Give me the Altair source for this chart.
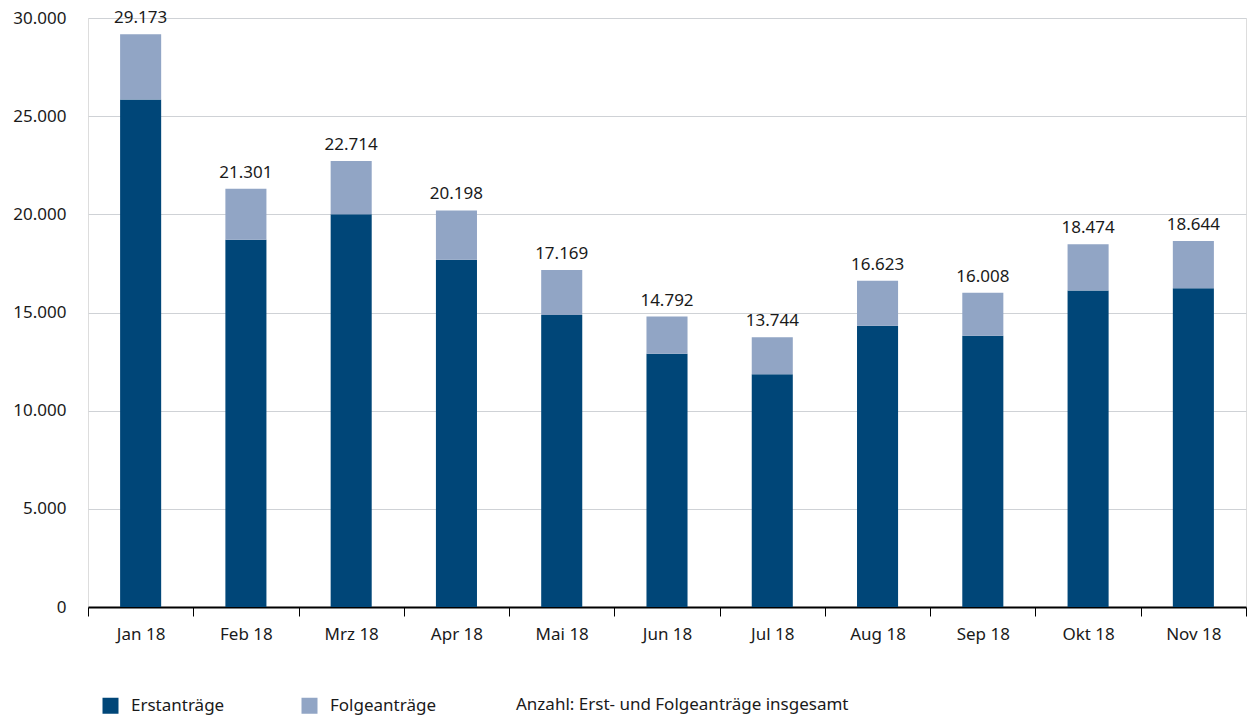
import altair as alt
import pandas as pd

months = ["Jan 18", "Feb 18", "Mrz 18", "Apr 18", "Mai 18", "Jun 18",
          "Jul 18", "Aug 18", "Sep 18", "Okt 18", "Nov 18"]
totals = [29173, 21301, 22714, 20198, 17169, 14792, 13744, 16623, 16008, 18474, 18644]
erst = [25850, 18700, 20010, 17690, 14870, 12900, 11850, 14320, 13810, 16120, 16240]
folge = [t - e for t, e in zip(totals, erst)]
series = ["Erstanträge", "Folgeanträge"]
colors = ["#004678", "#91a5c5"]
FONT = "Noto Sans"

rows = []
for i, m in enumerate(months):
    rows.append({"Monat": m, "Art": series[0], "Wert": erst[i], "ord": 0})
    rows.append({"Monat": m, "Art": series[1], "Wert": folge[i], "ord": 1})
df = pd.DataFrame(rows)
df_tot = pd.DataFrame({"Monat": months, "Gesamt": totals})

xscale = alt.Scale(paddingInner=0, paddingOuter=0)
xenc = alt.X("Monat:N", sort=months, title=None, scale=xscale,
             axis=alt.Axis(labelAngle=0, domainColor="#000000", domainWidth=2,
                           tickColor="#000000", tickSize=9, tickWidth=1,
                           tickBand="extent", labelPadding=10, labelFontSize=17,
                           labelColor="#1a1a1a", labelFont=FONT, grid=False))

bars = alt.Chart(df).mark_bar(width=alt.RelativeBandSize(0.39)).encode(
    x=xenc,
    y=alt.Y("sum(Wert):Q", title=None,
            scale=alt.Scale(domain=[0, 30000], nice=False),
            axis=alt.Axis(values=[0, 5000, 10000, 15000, 20000, 25000, 30000],
                          labelExpr="replace(format(datum.value, ','), ',', '.')",
                          domain=False, ticks=False, labelPadding=22,
                          labelFontSize=17, labelColor="#1a1a1a", labelFont=FONT,
                          gridColor="#cfd2d6", gridWidth=1)),
    color=alt.Color("Art:N", sort=series,
                    scale=alt.Scale(domain=series, range=colors),
                    legend=alt.Legend(title="Anzahl: Erst- und Folgeanträge insgesamt",
                                      titleOrient="right", titleFontWeight="normal",
                                      titleFontSize=17, titleFont=FONT, titleColor="#1a1a1a",
                                      titlePadding=80, titleBaseline="middle",
                                      titleLimit=600,
                                      orient="none", legendX=14, legendY=679,
                                      direction="horizontal", columns=2,
                                      columnPadding=76, symbolType="square",
                                      symbolSize=256, symbolStrokeWidth=0,
                                      symbolOpacity=1, labelOffset=12,
                                      labelFontSize=17, labelFont=FONT,
                                      labelColor="#1a1a1a", padding=0)),
    order=alt.Order("ord:Q", sort="ascending"),
)

labels = alt.Chart(df_tot).transform_calculate(
    lab="replace(format(datum.Gesamt, ','), ',', '.')"
).mark_text(baseline="bottom", dy=-7, fontSize=17, font=FONT, color="#1a1a1a").encode(
    x=alt.X("Monat:N", sort=months, scale=xscale),
    y=alt.Y("Gesamt:Q"),
    text="lab:N",
)

chart = alt.layer(bars, labels).properties(
    width=1158, height=589,
    autosize=alt.AutoSizeParams(type="none"),
    padding={"left": 88, "top": 18, "right": 2, "bottom": 113},
).configure_view(stroke=None).configure(background="#ffffff")

chart.save("out.html", embed_options={"renderer": "svg", "actions": False})
